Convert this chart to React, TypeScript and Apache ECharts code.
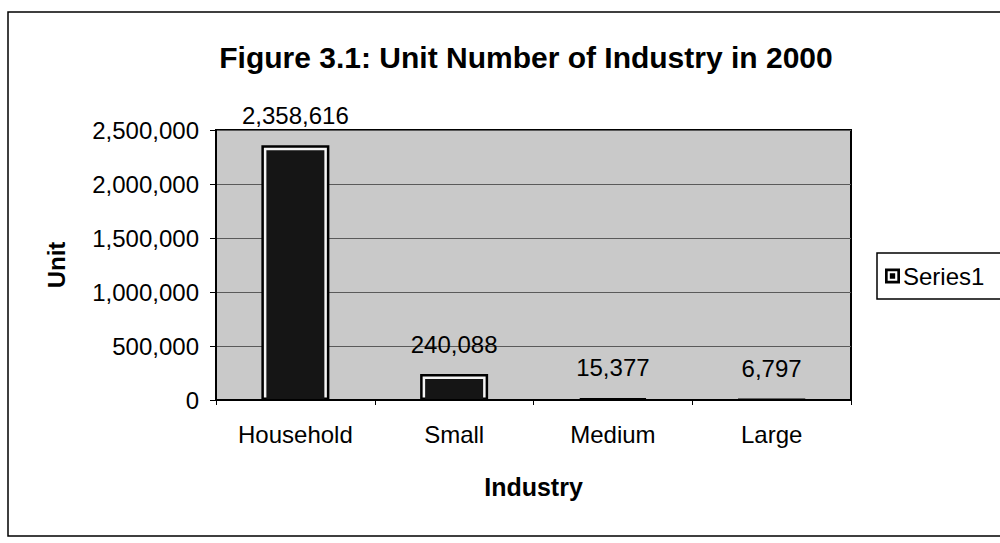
import React, { useEffect, useRef } from "react";
import * as echarts from "echarts";

const categories = ["Household", "Small", "Medium", "Large"];
const series1 = [2358616, 240088, 15377, 6797];
const yTicks = { min: 0, max: 2500000, interval: 500000 };

const fmt = (v: number) => Number(v).toLocaleString("en-US");

export default function App() {
  const ref = useRef<HTMLDivElement>(null);
  useEffect(() => {
    if (!ref.current) return;
    const chart = echarts.init(ref.current, undefined, { renderer: "svg" });
    const font = "'Liberation Sans', Arial, sans-serif";
    const legendIcon =
      "path://M0,0H14V14H0Z M2.5,2.5V11.5H11.5V2.5Z M4.5,4.5H9.5V9.5H4.5Z";
    chart.setOption({
      animation: false,
      backgroundColor: "#ffffff",
      textStyle: { fontFamily: font, color: "#000" },
      title: {
        text: "Figure 3.1: Unit Number of Industry in 2000",
        left: 521,
        textAlign: "center",
        top: 37,
        textStyle: { fontFamily: font, fontSize: 30, fontWeight: "bold", color: "#000" },
      },
      legend: {
        left: 877,
        top: 253,
        orient: "vertical",
        borderColor: "#000",
        borderWidth: 1.5,
        padding: [11, 40, 11, 8],
        itemWidth: 15,
        itemHeight: 15,
        itemGap: 6,
        icon: legendIcon,
        itemStyle: { color: "#000", borderWidth: 0 },
        textStyle: { fontFamily: font, fontSize: 24, color: "#000", padding: [0, 0, 0, -2] },
        data: ["Series1"],
      },
      grid: {
        left: 216,
        right: 149,
        top: 130,
        bottom: 143,
        show: true,
        backgroundColor: "#c9c9c9",
        borderColor: "#000",
        borderWidth: 2,
      },
      xAxis: {
        type: "category",
        data: categories,
        name: "Industry",
        nameLocation: "middle",
        nameGap: 74,
        nameTextStyle: { fontFamily: font, fontSize: 25, fontWeight: "bold", color: "#000" },
        axisLine: { lineStyle: { color: "#000", width: 2 } },
        axisTick: { show: true, length: 5, lineStyle: { color: "#000" } },
        axisLabel: { fontFamily: font, fontSize: 24, color: "#000", margin: 22 },
      },
      yAxis: {
        type: "value",
        min: yTicks.min,
        max: yTicks.max,
        interval: yTicks.interval,
        name: "Unit",
        nameLocation: "middle",
        nameGap: 148,
        nameTextStyle: { fontFamily: font, fontSize: 24, fontWeight: "bold", color: "#000" },
        axisLine: { show: true, lineStyle: { color: "#000", width: 2 } },
        axisTick: { show: true, length: 6, lineStyle: { color: "#000" } },
        axisLabel: { fontFamily: font, fontSize: 24, color: "#000", margin: 17, formatter: (v: number) => fmt(v) },
        splitLine: { show: true, lineStyle: { color: "#5a5a5a", width: 1 } },
      },
      series: [
        {
          name: "Series1",
          type: "bar",
          data: series1,
          barWidth: 68,
          z: 2,
          itemStyle: { color: "#f4f4f4", borderColor: "#000", borderWidth: 2.5 },
          label: {
            show: true,
            position: "top",
            distance: 18,
            fontFamily: font,
            fontSize: 24,
            color: "#000",
            formatter: (p: any) => fmt(p.value),
          },
        },
        {
          name: "inner",
          type: "custom",
          z: 3,
          silent: true,
          data: series1.map((v, i) => [i, v]),
          encode: { x: 0, y: 1 },
          renderItem: (params: any, api: any) => {
            const top = api.coord([api.value(0), api.value(1)]);
            const base = api.coord([api.value(0), 0]);
            const inset = 5;
            const w = 68 - inset * 2;
            const h = Math.max(0, base[1] - top[1] - inset - 1);
            if (h <= 0) return { type: "group", children: [] };
            return {
              type: "rect",
              shape: { x: top[0] - w / 2, y: top[1] + inset, width: w, height: h },
              style: { fill: "#151515" },
            };
          },
        },
      ],
      graphic: [
        {
          type: "rect",
          shape: { x: 8, y: 12, width: 1010, height: 524 },
          style: { fill: "none", stroke: "#000", lineWidth: 1.5 },
          silent: true,
        },
      ],
    });
    return () => chart.dispose();
  }, []);
  return <div ref={ref} style={{ position: "fixed", left: 0, top: 0, width: 1000, height: 543 }} />;
}
